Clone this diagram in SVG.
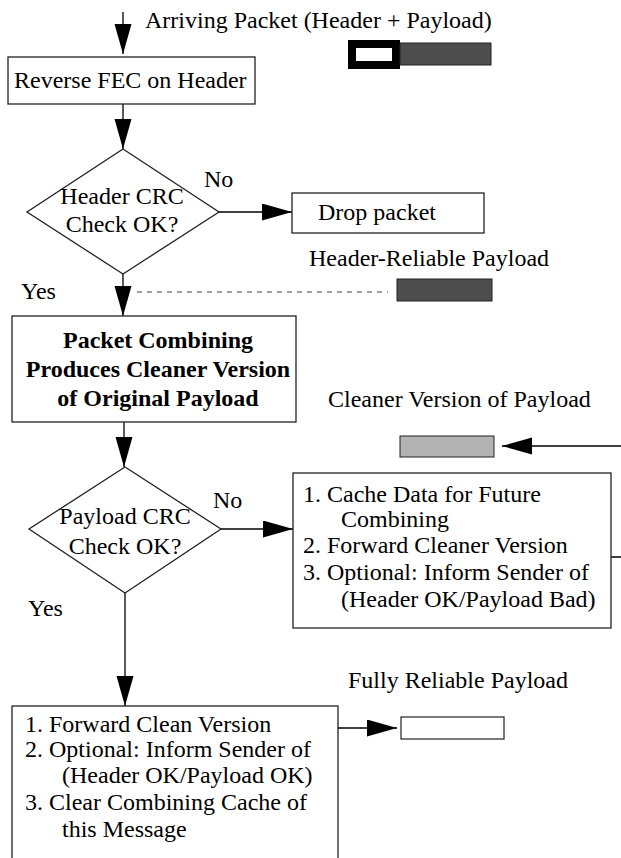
<svg xmlns="http://www.w3.org/2000/svg" width="621" height="858" viewBox="0 0 621 858">
<style>
text{font-family:"Liberation Serif","Times New Roman",serif;font-size:24px;fill:#000}
.b{font-weight:bold}
.box{fill:#fff;stroke:#222;stroke-width:1.3}
.ln{stroke:#000;stroke-width:1.3;fill:none}
.mid{text-anchor:middle}
</style>
<defs>
<marker id="ah" markerUnits="userSpaceOnUse" markerWidth="30" markerHeight="18" refX="30" refY="8.5" orient="auto">
<path d="M0,0 L30,8.5 L0,17 z" fill="#000"/>
</marker>
</defs>
<g id="connectors">
<line class="ln" x1="123" y1="12" x2="123" y2="54" marker-end="url(#ah)"/>
<line class="ln" x1="123" y1="104" x2="123" y2="149" marker-end="url(#ah)"/>
<line class="ln" x1="219" y1="212" x2="292" y2="212" marker-end="url(#ah)"/>
<line class="ln" x1="123" y1="274" x2="123" y2="316" marker-end="url(#ah)"/>
<line x1="137" y1="292" x2="388" y2="292" stroke="#444" stroke-width="1.2" stroke-dasharray="5,5"/>
<line class="ln" x1="124" y1="422" x2="124" y2="467" marker-end="url(#ah)"/>
<line class="ln" x1="221" y1="529" x2="293" y2="529" marker-end="url(#ah)"/>
<line class="ln" x1="621" y1="446" x2="502" y2="446" marker-end="url(#ah)"/>
<line class="ln" x1="577" y1="557" x2="621" y2="557"/>
<line class="ln" x1="125" y1="593" x2="125" y2="706" marker-end="url(#ah)"/>
<line class="ln" x1="282" y1="728" x2="397" y2="728" marker-end="url(#ah)"/>
</g>
<g id="arriving">
<text x="145" y="28">Arriving Packet (Header + Payload)</text>
<rect x="352" y="44" width="44" height="21" fill="#fff" stroke="#000" stroke-width="8"/>
<rect x="400" y="43" width="91" height="22" fill="#4d4d4d" stroke="#222" stroke-width="1"/>
</g>
<g id="reverse-fec">
<rect class="box" x="8" y="57" width="247" height="47"/>
<text x="14" y="88">Reverse FEC on Header</text>
</g>
<g id="header-crc">
<polygon class="box" points="123,149 219,212 123,274 27,212"/>
<text class="mid" x="122" y="204">Header CRC</text>
<text class="mid" x="122" y="232">Check OK?</text>
<text x="204" y="187">No</text>
<text x="21" y="299">Yes</text>
</g>
<g id="drop">
<rect class="box" x="292" y="193" width="192" height="40"/>
<text x="318" y="220">Drop packet</text>
</g>
<g id="header-reliable">
<text x="309" y="266">Header-Reliable Payload</text>
<rect x="397" y="279" width="95" height="22" fill="#4d4d4d" stroke="#222" stroke-width="1"/>
</g>
<g id="combining">
<rect class="box" x="12" y="316" width="284" height="106"/>
<text class="mid b" x="158" y="348">Packet Combining</text>
<text class="mid b" x="158" y="377">Produces Cleaner Version</text>
<text class="mid b" x="158" y="406">of Original Payload</text>
</g>
<g id="cleaner">
<text x="328" y="407">Cleaner Version of Payload</text>
<rect x="400" y="436" width="94" height="21" fill="#b3b3b3" stroke="#222" stroke-width="1"/>
</g>
<g id="payload-crc">
<polygon class="box" points="125,467 221,529 125,593 29,529"/>
<text class="mid" x="125" y="524">Payload CRC</text>
<text class="mid" x="125" y="554">Check OK?</text>
<text x="213" y="508">No</text>
<text x="28" y="616">Yes</text>
</g>
<g id="cache">
<rect class="box" x="293" y="473" width="318" height="155"/>
<text x="303" y="502">1. Cache Data for Future</text>
<text x="341" y="527">Combining</text>
<text x="303" y="553">2. Forward Cleaner Version</text>
<text x="303" y="580">3. Optional: Inform Sender of</text>
<text x="341" y="607">(Header OK/Payload Bad)</text>
</g>
<g id="forward">
<rect class="box" x="12" y="706" width="326" height="170"/>
<text x="25" y="732">1. Forward Clean Version</text>
<text x="25" y="757">2. Optional: Inform Sender of</text>
<text x="62" y="783">(Header OK/Payload OK)</text>
<text x="25" y="810">3. Clear Combining Cache of</text>
<text x="62" y="837">this Message</text>
</g>
<g id="fully-reliable">
<text x="348" y="688">Fully Reliable Payload</text>
<rect x="401" y="717" width="103" height="22" fill="#fff" stroke="#222" stroke-width="1.2"/>
</g>
</svg>
